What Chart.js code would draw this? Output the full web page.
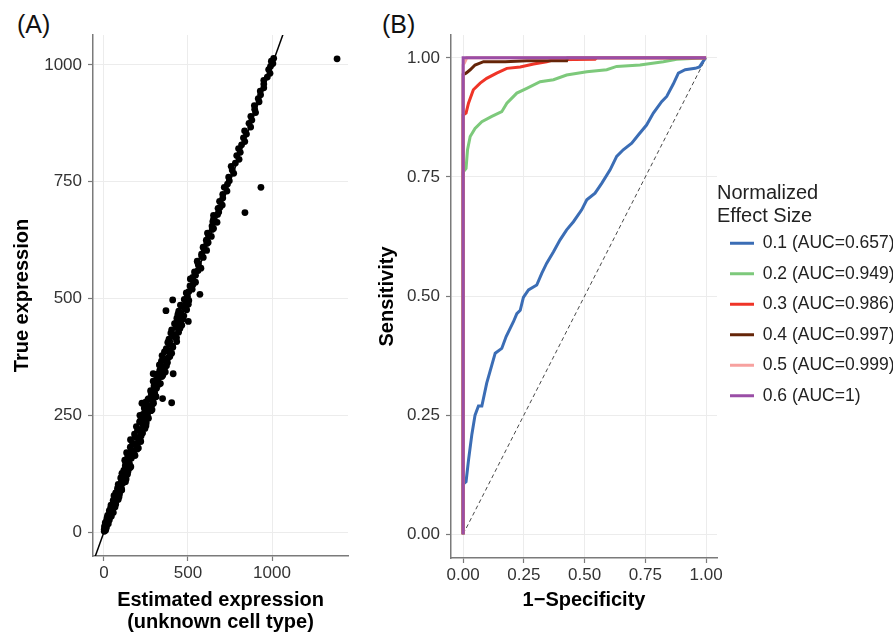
<!DOCTYPE html>
<html>
<head>
<meta charset="utf-8">
<script src="https://cdn.jsdelivr.net/npm/chart.js@4.4.1/dist/chart.umd.min.js"></script>
<style>
  body { margin: 0; background: #fff; width: 893px; height: 637px; position: relative; overflow: hidden;
         font-family: "Liberation Sans", Arial, sans-serif; }
  canvas { position: absolute; top: 0; }
  #chartA { left: 0; }
  #chartB { left: 372px; }
  .panel { position: absolute; top: 12px; font-size: 25px; line-height: 25px; color: #111; }
</style>
</head>
<body>
<div class="panel" style="left:17px">(A)</div>
<div class="panel" style="left:382px">(B)</div>
<canvas id="chartA" width="372" height="637"></canvas>
<canvas id="chartB" width="521" height="637"></canvas>
<script>
const FONT = '"Liberation Sans", Arial, sans-serif';

// Panel A: estimated vs true expression
const estimated = [
  2, 2, 15, 6, 26, 12, 32, 18, 44, 32, 56, 32, 53, 66, 42, 69, 57, 85, 71, 60, 93, 79, 106, 81, 102, 85, 115, 105, 132, 107, 124, 107, 143, 126, 155, 127, 152, 148,
  10, 4, 8, 30, 22, 50, 40, 70, 55, 90, 70, 105, 88, 128, 100, 140, 118, 160, 130,
  124, 163, 142, 181, 135, 174, 198, 157, 196, 175, 219, 158, 197, 221, 182, 222, 200, 244, 193, 232, 252, 216, 234, 258, 214, 260, 244, 286, 240, 268, 288, 248, 292, 266, 310, 282, 302,
  150, 185, 160, 205, 170, 215, 185, 230, 205, 250, 212, 265, 232, 280, 252, 295, 262, 305, 280,
  278, 313, 298, 336, 293, 323, 345, 318, 365, 338, 353, 330, 378, 350, 381, 346, 403, 380, 371, 408, 389, 433, 387, 420, 411, 444, 403, 434, 463, 430, 459, 434, 475, 458, 445, 482, 467, 502, 487, 478,
  300, 325, 310, 350, 332, 372, 342, 392, 360, 410, 380, 432, 398, 452, 420, 470, 440, 492, 455, 505,
  497, 490, 525, 512, 545, 514, 545, 539, 577, 562, 555, 591, 581, 611, 590, 612, 609, 639, 616, 644, 643, 673, 652, 652, 683, 679, 704, 688, 707, 707, 732, 716, 735,
  505, 530, 528, 560, 560, 582, 596, 620, 622, 652, 648, 676, 690,
  746, 742, 772, 763, 757, 782, 804, 790, 811, 801, 819, 838, 830, 848, 837, 873, 863, 880, 874, 902, 897, 895, 923, 918, 932, 930, 951, 951, 951, 972, 988, 980, 991, 1005, 996, 1010,
  1387, 839, 934, 412, 349, 403, 293, 226, 571, 502, 409, 369
];
const truth = [
  2, 6, 10, 14, 18, 22, 26, 30, 34, 38, 42, 46, 50, 54, 58, 62, 66, 70, 74, 78, 82, 86, 90, 94, 98, 102, 106, 110, 114, 118, 122, 126, 130, 134, 138, 142, 146, 150,
  4, 12, 20, 28, 36, 44, 52, 60, 68, 76, 84, 92, 100, 108, 116, 124, 132, 140, 148,
  154, 158, 162, 166, 170, 174, 178, 182, 186, 190, 194, 198, 202, 206, 210, 214, 218, 222, 226, 230, 234, 238, 242, 246, 250, 254, 258, 262, 266, 270, 274, 278, 282, 286, 290, 294, 298,
  156, 164, 172, 180, 188, 196, 204, 212, 220, 228, 236, 244, 252, 260, 268, 276, 284, 292, 300,
  303, 308, 313, 318, 323, 328, 333, 338, 343, 348, 353, 358, 363, 368, 373, 378, 383, 388, 393, 398, 403, 408, 413, 418, 423, 428, 433, 438, 443, 448, 453, 458, 463, 468, 473, 478, 483, 488, 493, 498,
  306, 316, 326, 336, 346, 356, 366, 376, 386, 396, 406, 416, 426, 436, 446, 456, 466, 476, 486, 496,
  505, 512, 520, 527, 535, 542, 550, 557, 565, 572, 580, 588, 595, 603, 610, 618, 625, 633, 640, 648, 655, 663, 670, 678, 685, 693, 700, 708, 715, 723, 730, 738, 745,
  515, 530, 545, 560, 575, 590, 605, 620, 635, 650, 665, 680, 695,
  752, 760, 768, 775, 783, 790, 798, 806, 813, 821, 829, 836, 844, 852, 859, 867, 875, 882, 890, 898, 905, 913, 921, 928, 936, 944, 951, 959, 967, 974, 982, 990, 997, 1003, 1008, 1014,
  1013, 684, 738, 339, 286, 277, 339, 276, 509, 451, 497, 474
];
const identityLine = [[-100, -100], [1200, 1200]];
const xTicksA = [0, 500, 1000];
const yTicksA = [0, 250, 500, 750, 1000];

// Panel B: ROC curves, [1-specificity, sensitivity]
const effectLabels = ['0.1 (AUC=0.657)', '0.2 (AUC=0.949)', '0.3 (AUC=0.986)', '0.4 (AUC=0.997)', '0.5 (AUC=0.999)', '0.6 (AUC=1)'];
const effectColors = ['#3b6db5', '#7dc97b', '#ef3427', '#652508', '#f7a19f', '#9a4ea6'];
const roc01 = [[0,0],[0,0.105],[0.012,0.11],[0.022,0.155],[0.036,0.21],[0.049,0.25],[0.063,0.269],[0.077,0.269],[0.097,0.317],[0.118,0.355],[0.132,0.38],[0.159,0.39],[0.177,0.415],[0.207,0.446],[0.221,0.463],[0.235,0.47],[0.248,0.497],[0.269,0.513],[0.303,0.523],[0.324,0.548],[0.344,0.569],[0.372,0.593],[0.399,0.618],[0.426,0.639],[0.454,0.656],[0.488,0.681],[0.509,0.702],[0.543,0.716],[0.571,0.737],[0.605,0.765],[0.632,0.793],[0.659,0.807],[0.694,0.821],[0.721,0.838],[0.755,0.859],[0.783,0.884],[0.817,0.908],[0.838,0.919],[0.865,0.945],[0.886,0.968],[0.914,0.975],[0.955,0.978],[0.973,0.981],[0.996,0.999],[1,1]];
const roc02 = [[0,0],[0,0.76],[0.012,0.768],[0.018,0.807],[0.029,0.835],[0.049,0.852],[0.077,0.866],[0.118,0.877],[0.159,0.887],[0.18,0.905],[0.221,0.926],[0.262,0.936],[0.317,0.95],[0.372,0.954],[0.426,0.964],[0.509,0.971],[0.591,0.975],[0.632,0.982],[0.728,0.985],[0.824,0.992],[0.879,0.997],[1,1]];
const roc03 = [[0,0],[0,0.88],[0.012,0.884],[0.022,0.905],[0.042,0.933],[0.07,0.947],[0.097,0.957],[0.138,0.968],[0.18,0.978],[0.235,0.981],[0.29,0.987],[0.344,0.992],[0.372,0.996],[0.543,0.997],[0.55,1],[1,1]];
const roc04 = [[0,0],[0,0.965],[0.012,0.968],[0.029,0.975],[0.049,0.985],[0.084,0.992],[0.173,0.992],[0.262,0.994],[0.426,0.994],[0.43,1],[1,1]];
const roc05 = [[0,0],[0,0.985],[0.006,0.99],[0.015,1],[1,1]];
const roc06 = [[0,0],[0,1],[1,1]];
const chanceLine = [[0,0],[1,1]];
const xTicksB = [0, 0.25, 0.5, 0.75, 1];
const yTicksB = [0, 0.25, 0.5, 0.75, 1];

const axisGray = '#7a7a7a';
const gridGray = '#ececec';
const tickColor = '#333';
const tickFont = { family: FONT, size: 17 };
const titleFont = { family: FONT, size: 20, weight: 'bold', lineHeight: 1.1 };

function toXY(pairs) { return pairs.map(p => ({ x: p[0], y: p[1] })); }

function axis(ticksList, fmt, pad, extra) {
  return Object.assign({
    type: 'linear',
    afterBuildTicks: s => { s.ticks = ticksList.map(v => ({ value: v })); },
    grid: { color: gridGray, lineWidth: 1, drawTicks: true, tickLength: 5, tickColor: axisGray, tickWidth: 1.2 },
    border: { display: true, color: axisGray, width: 1.5 },
    ticks: { color: tickColor, font: tickFont, autoSkip: false, maxRotation: 0, padding: pad, callback: fmt }
  }, extra);
}

new Chart(document.getElementById('chartA'), {
  type: 'scatter',
  data: {
    datasets: [
      { label: 'identity', data: toXY(identityLine), showLine: true, borderColor: '#000', borderWidth: 1.5, pointRadius: 0 },
      { label: 'genes', data: estimated.map((x, i) => ({ x: x, y: truth[i] })), pointRadius: 3.4, pointBackgroundColor: '#000', pointBorderWidth: 0 }
    ]
  },
  options: {
    responsive: false,
    animation: false,
    layout: { padding: { top: 35, right: 24, left: 0, bottom: 0 } },
    plugins: { legend: { display: false }, tooltip: { enabled: false } },
    scales: {
      x: axis(xTicksA, v => String(v), 2, {
        min: -65, max: 1452,
        afterFit: s => { s.height = 81; },
        title: { display: true, text: ['Estimated expression', '(unknown cell type)'], color: '#000', font: titleFont, padding: { top: 0, bottom: 4 } }
      }),
      y: axis(yTicksA, v => String(v), 6, {
        min: -51, max: 1064,
        afterFit: s => { s.width = 93; },
        title: { display: true, text: 'True expression', color: '#000', font: titleFont, padding: { top: 11, bottom: 0 } }
      })
    }
  }
});

const rocSeries = [roc01, roc02, roc03, roc04, roc05, roc06];
const rocDatasets = rocSeries.map((s, i) => ({
  label: effectLabels[i],
  data: toXY(s),
  showLine: true,
  borderColor: effectColors[i],
  backgroundColor: effectColors[i],
  borderWidth: 3,
  pointRadius: 0,
  order: 6 - i
}));
rocDatasets.push({
  label: 'chance', data: toXY(chanceLine), showLine: true, borderColor: '#333', borderWidth: 0.9,
  borderDash: [4, 3], pointRadius: 0, order: 10
});

new Chart(document.getElementById('chartB'), {
  type: 'scatter',
  data: { datasets: rocDatasets },
  options: {
    responsive: false,
    animation: false,
    layout: { padding: { top: 35, right: 0, left: 0, bottom: 0 } },
    plugins: {
      tooltip: { enabled: false },
      legend: {
        position: 'right', fullSize: false, maxWidth: 176, align: 'center',
        title: { display: true, text: ['Normalized', 'Effect Size'], position: 'start', color: '#222',
                 font: { family: FONT, size: 20, lineHeight: 1.15 }, padding: { top: 8, bottom: 15 } },
        labels: {
          usePointStyle: true, pointStyle: 'line', pointStyleWidth: 24, padding: 13, color: '#222',
          font: { family: FONT, size: 17.5 },
          filter: item => item.datasetIndex < 6,
          sort: (a, b) => a.datasetIndex - b.datasetIndex
        }
      }
    },
    scales: {
      x: axis(xTicksB, v => v.toFixed(2), 2, {
        min: -0.05, max: 1.045,
        afterFit: s => { s.height = 79; },
        title: { display: true, text: '1\u2212Specificity', color: '#000', font: titleFont, padding: { top: 0, bottom: 26 } }
      }),
      y: axis(yTicksB, v => v.toFixed(2), 6, {
        min: -0.05, max: 1.048,
        afterFit: s => { s.width = 79; },
        title: { display: true, text: 'Sensitivity', color: '#000', font: titleFont, padding: { top: 4, bottom: 0 } }
      })
    }
  }
});
</script>
</body>
</html>
